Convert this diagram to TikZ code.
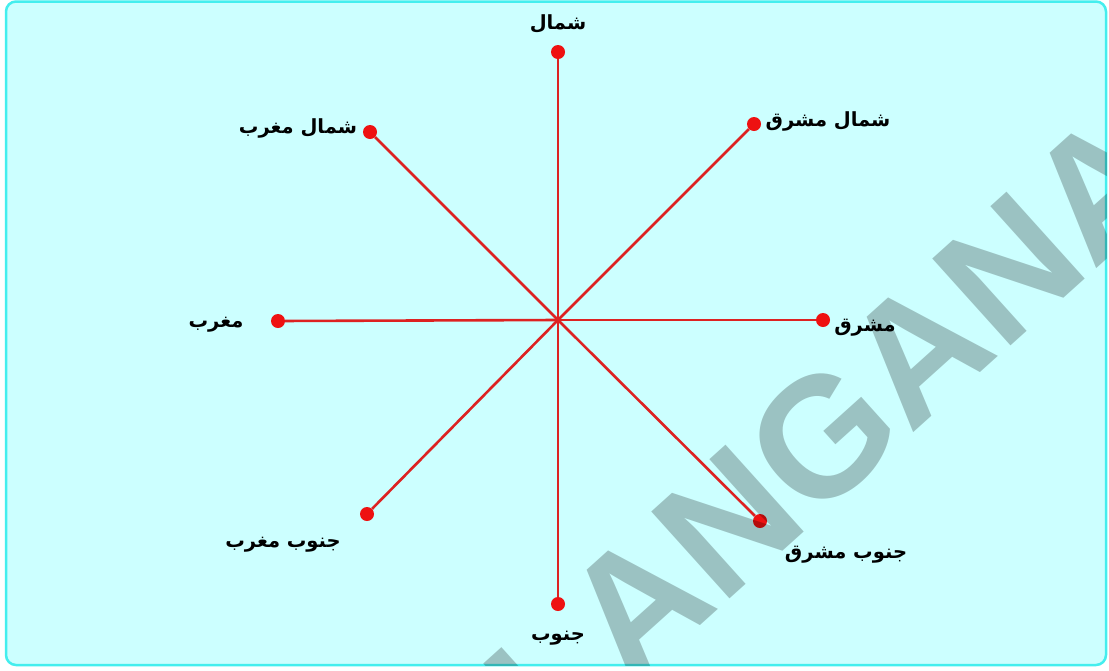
\documentclass[tikz,border=0pt]{standalone}
\usepackage{fontspec}
\TeXXeTstate=1
\newfontfamily\arabicfont[Script=Arabic]{DejaVu Sans}
\newfontfamily\wmfont{Liberation Sans}
\definecolor{bgcyan}{HTML}{CCFFFF}
\definecolor{framecyan}{HTML}{44EEEE}
\definecolor{linered}{HTML}{DD2222}
\definecolor{dotred}{HTML}{EE1111}
\tikzset{
  ray/.style={linered, line width=2.6pt},
  dot/.style={circle, fill=dotred, inner sep=0pt, minimum size=14pt},
  lbl/.style={font=\arabicfont\bfseries\fontsize{19.5}{24}\selectfont, text=black, inner sep=0pt},
  wmark/.style={text=black, text opacity=0.24, rotate=42, inner sep=0pt,
    font=\wmfont\bfseries\fontsize{170}{170}\selectfont},
}
\begin{document}
\begin{tikzpicture}[x=1pt,y=-1pt]
\useasboundingbox (0,0) rectangle (1109,670);
\fill[white] (0,0) rectangle (1109,670);
\draw[framecyan, line width=2.5pt, fill=bgcyan, rounded corners=10pt] (6,1.5) rectangle (1106,665);
\coordinate (c) at (558,320);
\node[dot] (n) at (558,52) {};
\node[dot] (ne) at (754,124) {};
\node[dot] (nw) at (370,132) {};
\node[dot] (w) at (278,321) {};
\node[dot] (e) at (823,320) {};
\node[dot] (sw) at (367,514) {};
\node[dot] (se) at (760,521) {};
\node[dot] (s) at (558,604) {};
\foreach \d in {n,ne,nw,w,e,sw,se,s} \draw[ray] (c) -- (\d);
\node[lbl] (ln) at (558,24) {\beginR شمال\endR};
\node[lbl] (lne) at (828,121) {\beginR شمال مشرق\endR};
\node[lbl] (lnw) at (298,128) {\beginR شمال مغرب\endR};
\node[lbl] (lw) at (216,325) {\beginR مغرب\endR};
\node[lbl] (le) at (865,328) {\beginR مشرق\endR};
\node[lbl] (lsw) at (283,545) {\beginR جنوب مغرب\endR};
\node[lbl] (lse) at (846,555) {\beginR جنوب مشرق\endR};
\node[lbl] (ls) at (558,638) {\beginR جنوب\endR};
\begin{scope}
\clip[rounded corners=10pt] (6,1.5) rectangle (1106,665);
\node[wmark] (wm) at (749,503) {TELANGANA};
\end{scope}
\end{tikzpicture}
\end{document}
